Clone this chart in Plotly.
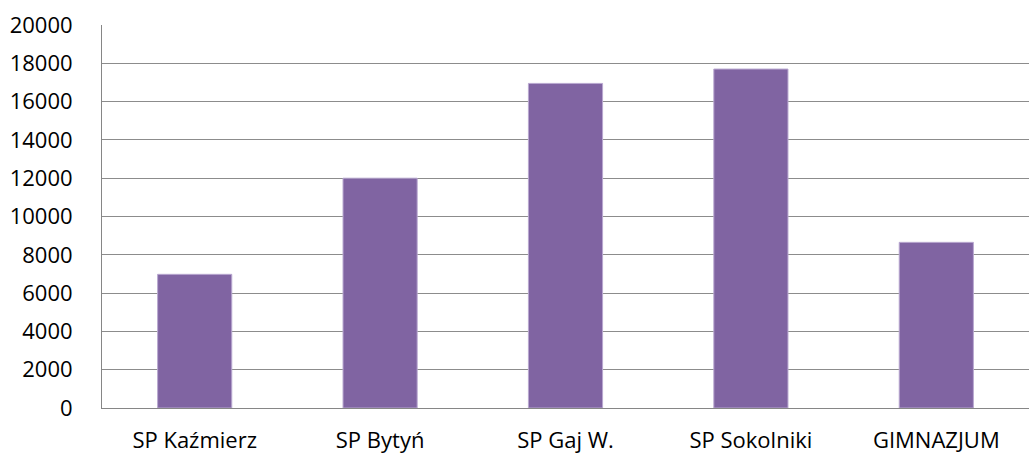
import plotly.graph_objects as go

categories = ["SP Kaźmierz", "SP Bytyń", "SP Gaj W.", "SP Sokolniki", "GIMNAZJUM"]
values = [6980, 12000, 16950, 17700, 8650]
y_ticks = [0, 2000, 4000, 6000, 8000, 10000, 12000, 14000, 16000, 18000, 20000]

fig = go.Figure(
    go.Bar(
        x=categories,
        y=values,
        marker=dict(color="#8064A2", line=dict(color="#B9A8D0", width=1)),
        width=0.4,
    )
)

fig.update_layout(
    width=1032,
    height=453,
    margin=dict(l=102, r=3, t=25, b=45, autoexpand=False),
    paper_bgcolor="white",
    plot_bgcolor="white",
    showlegend=False,
    font=dict(family="Open Sans", size=22, color="#000000"),
)

fig.update_xaxes(
    automargin=False,
    showline=True,
    linecolor="#868686",
    linewidth=1,
    showgrid=False,
    ticks="",
    ticklabelstandoff=13,
    tickfont=dict(size=22),
)

fig.update_yaxes(
    automargin=False,
    range=[0, 20000],
    tickvals=y_ticks,
    ticktext=[str(v) for v in y_ticks],
    showline=True,
    linecolor="#868686",
    linewidth=1,
    showgrid=True,
    gridcolor="#8C8C8C",
    gridwidth=1,
    zeroline=False,
    ticks="",
    ticklabelstandoff=24,
    tickfont=dict(size=22),
)

fig.write_html(
    "out.html",
    config={"displayModeBar": False},
    post_script="document.body.style.margin='0';document.body.style.overflow='hidden';",
)
